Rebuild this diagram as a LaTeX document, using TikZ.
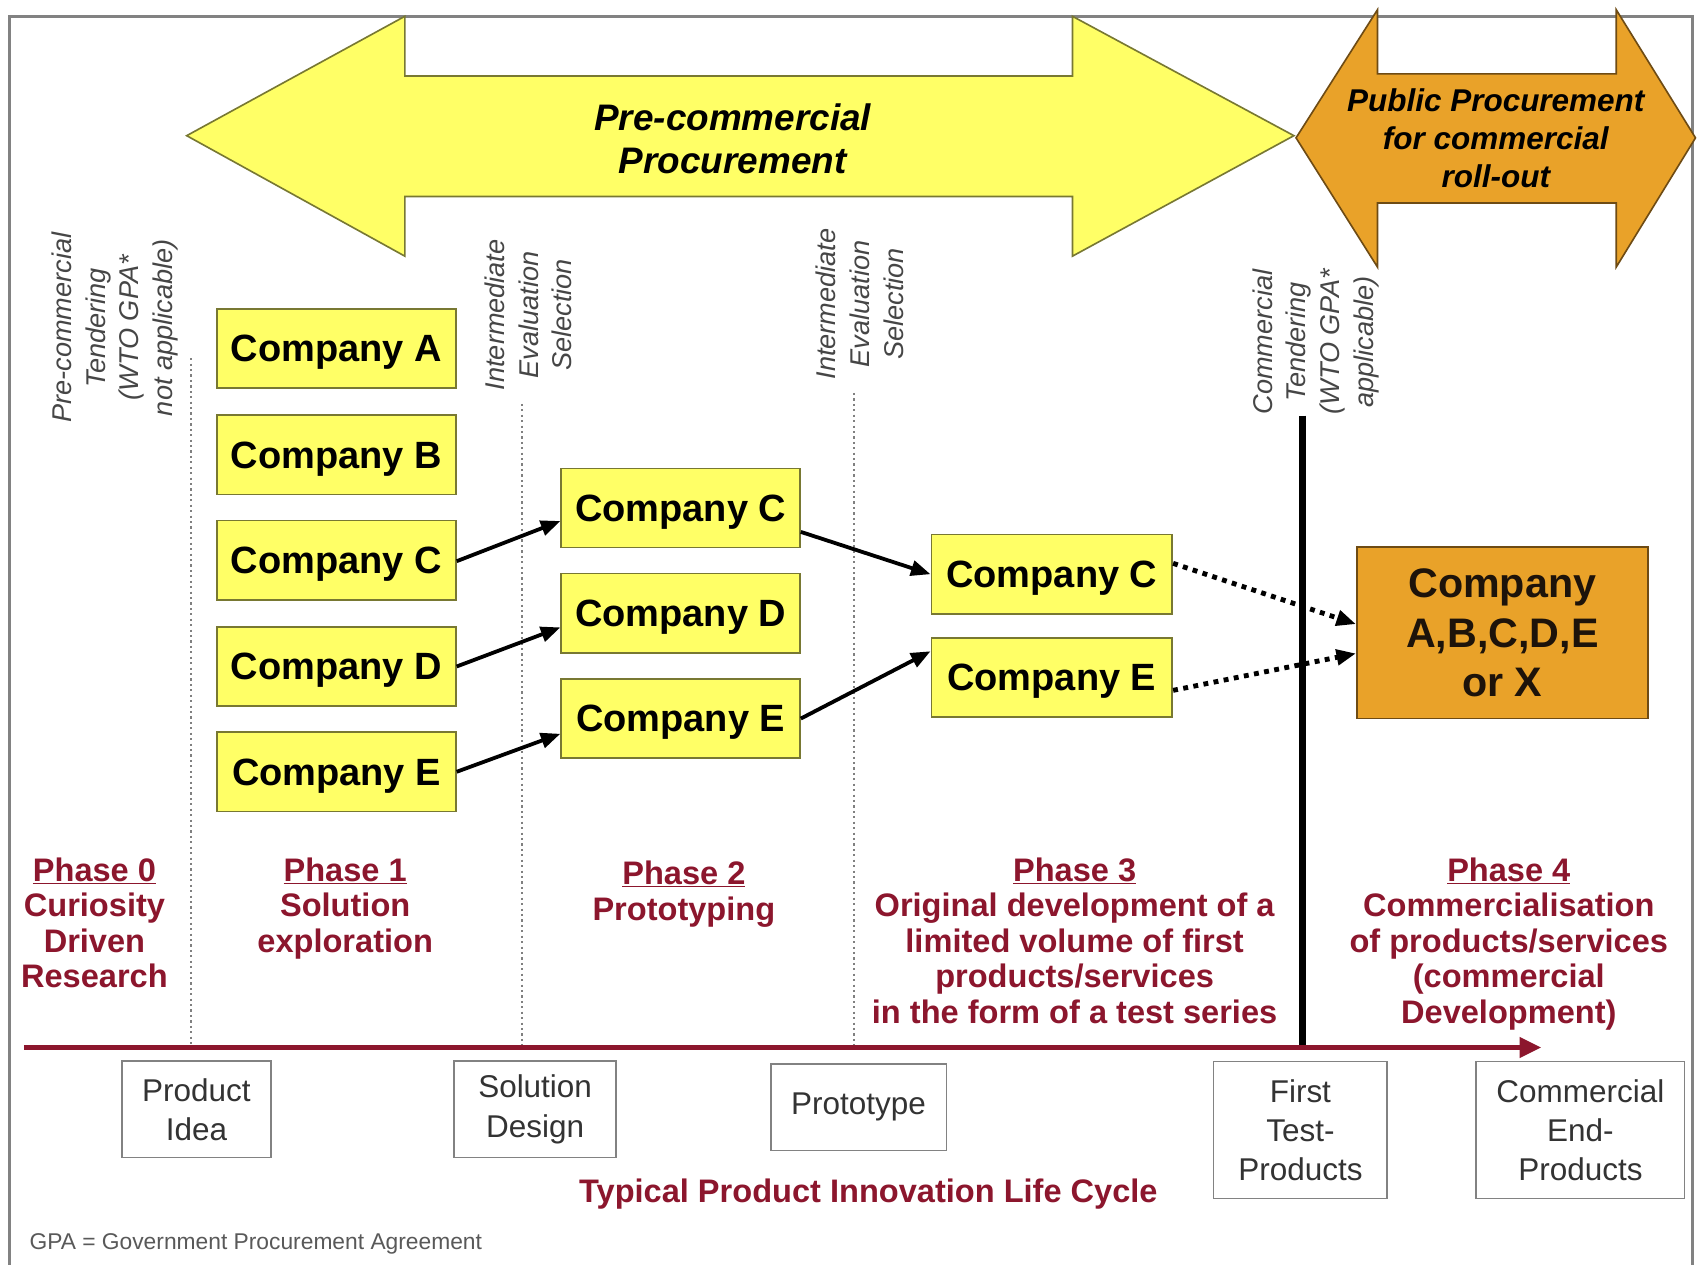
\documentclass[tikz,border=0pt]{standalone}
\usepackage{fontspec}
\setmainfont{Liberation Sans}
\usetikzlibrary{arrows.meta,calc}
\definecolor{yfill}{RGB}{255,255,102}
\definecolor{ydraw}{RGB}{120,120,50}
\definecolor{ofill}{RGB}{233,162,41}
\definecolor{odraw}{RGB}{110,75,20}
\definecolor{maroon}{RGB}{140,22,45}
\definecolor{framegray}{RGB}{130,130,130}
\definecolor{labgray}{RGB}{70,70,70}
\tikzset{
  compbox/.style={draw=ydraw, fill=yfill, line width=1.5pt, minimum width=220pt, minimum height=73pt,
    inner sep=0pt, text depth=0pt, font=\fontsize{35}{40}\selectfont\bfseries, text=black},
  bigbox/.style={draw=odraw, fill=ofill, line width=1.5pt, minimum width=268pt, minimum height=158pt,
    inner sep=0pt, align=center, font=\fontsize{38}{46}\selectfont\bfseries, text=black!85!brown},
  flowarrow/.style={line width=3.5pt, -{Triangle[length=18pt,width=14pt]}},
  dotarrow/.style={line width=4.5pt, dash pattern=on 4.5pt off 5pt, -{Triangle[length=18pt,width=14pt]}},
  sidelabel/.style={rotate=90, align=center, inner sep=0pt, text=labgray,
    font=\fontsize{25}{31}\selectfont\itshape},
  phaselabel/.style={align=center, inner sep=0pt, anchor=north, text=maroon,
    font=\fontsize{30}{32.7}\selectfont\bfseries},
  lifebox/.style={draw=framegray, fill=white, line width=1.5pt, align=center, inner sep=0pt,
    font=\fontsize{29}{36}\selectfont, text=black!80},
  gate/.style={draw=gray, line width=1.5pt, dash pattern=on 2pt off 3pt},
}
\begin{document}
\begin{tikzpicture}[x=1pt,y=-1pt]
\useasboundingbox (0,0) rectangle (1568,1165);
\fill[white] (0,0) rectangle (1568,1165);
% frame
\draw[framegray, line width=3pt] (9,1170) -- (9,15) -- (1559,15) -- (1559,1170);

% big arrows
\draw[ydraw, fill=yfill, line width=1.5pt] (172,125) -- (373,15) -- (373,70) -- (988,70) -- (988,15)
  -- (1192,125) -- (988,236) -- (988,181) -- (373,181) -- (373,236) -- cycle;
\draw[odraw, fill=ofill, line width=1.5pt] (1194,127) -- (1269,9) -- (1269,68) -- (1489,68) -- (1489,9)
  -- (1562,127) -- (1489,246) -- (1489,187) -- (1269,187) -- (1269,246) -- cycle;
\node[align=center, font=\fontsize{34}{40}\selectfont\bfseries\itshape] (pcp) at (675,128)
  {Pre-commercial\\Procurement};
\node[align=center, font=\fontsize{29}{35}\selectfont\bfseries\itshape] (ppc) at (1378,127)
  {Public Procurement\\for commercial\\roll-out};

% side labels
\node[sidelabel] (l0) at (106,302) {Pre-commercial\\Tendering\\(WTO GPA*\\not applicable)};
\node[sidelabel] (l1) at (487,290) {Intermediate\\Evaluation\\Selection};
\node[sidelabel] (l2) at (792,280) {Intermediate\\Evaluation\\Selection};
\node[sidelabel] (l3) at (1212,315) {Commercial\\Tendering\\(WTO GPA*\\applicable)};

% timeline and gates
\coordinate (tl0) at (22,965);
\coordinate (tl1) at (1420,965);
\coordinate (g0t) at (176,330); \coordinate (g0b) at (176,965);
\coordinate (g1t) at (481,372); \coordinate (g1b) at (481,965);
\coordinate (g2t) at (787,362); \coordinate (g2b) at (787,965);
\coordinate (g3t) at (1200,383); \coordinate (g3b) at (1200,965);
\draw[gate] (g0t) -- (g0b);
\draw[gate] (g1t) -- (g1b);
\draw[gate] (g2t) -- (g2b);
\draw[black, line width=6pt] (g3t) -- (g3b);
\draw[maroon, line width=5pt, -{Triangle[length=20pt,width=18pt]}] (tl0) -- (tl1);

% company boxes
\node[compbox] (a1) at (310,321) {Company A};
\node[compbox] (b1) at (310,419) {Company B};
\node[compbox] (c1) at (310,516) {Company C};
\node[compbox] (d1) at (310,614) {Company D};
\node[compbox] (e1) at (310,711) {Company E};
\node[compbox] (c2) at (627,468) {Company C};
\node[compbox] (d2) at (627,565) {Company D};
\node[compbox] (e2) at (627,662) {Company E};
\node[compbox, minimum width=222pt] (c3) at (969,529) {Company C};
\node[compbox, minimum width=222pt] (e3) at (969,624) {Company E};
\node[bigbox] (x4) at (1384,583) {Company\\A,B,C,D,E\\or X};

% connectors
\draw[flowarrow] ($(c1.east)+(0,1)$) -- ($(c2.west)+(0,12)$);
\draw[flowarrow] (d1.east) -- ($(d2.west)+(0,13)$);
\draw[flowarrow] (e1.east) -- ($(e2.west)+(0,14)$);
\draw[flowarrow] ($(c2.east)+(0,22)$) -- (c3.west);
\draw[flowarrow] (e2.east) -- ($(e3.west)+(0,-24)$);
\draw[dotarrow] ($(c3.east)+(0,-10)$) -- ($(x4.west)+(0,-8)$);
\draw[dotarrow] ($(e3.east)+(0,12)$) -- ($(x4.west)+(0,19)$);

% phase labels
\node[phaselabel] (p0) at (87,790) {\underline{Phase 0}\\Curiosity\\Driven\\Research};
\node[phaselabel] (p1) at (318,790) {\underline{Phase 1}\\Solution\\exploration};
\node[phaselabel] (p2) at (630,793) {\underline{Phase 2}\\Prototyping};
\node[phaselabel] (p3) at (990,790) {\underline{Phase 3}\\Original development of a\\limited volume of first\\products/services\\in the form of a test series};
\node[phaselabel] (p4) at (1390,790) {\underline{Phase 4}\\Commercialisation\\of products/services\\(commercial\\Development)};

% life cycle boxes
\node[lifebox, minimum width=137pt, minimum height=89pt] (idea) at (181,1022) {Product\\Idea};
\node[lifebox, minimum width=149pt, minimum height=89pt] (design) at (493,1022) {Solution\\Design};
\node[lifebox, minimum width=162pt, minimum height=80pt] (proto) at (791,1020) {Prototype};
\node[lifebox, minimum width=160pt, minimum height=126pt] (test) at (1198,1041) {First\\Test-\\Products};
\node[lifebox, minimum width=192pt, minimum height=126pt] (endp) at (1456,1041) {Commercial\\End-\\Products};

\node[text=maroon, font=\fontsize{30}{36}\selectfont\bfseries] (cycle) at (800,1100)
  {Typical Product Innovation Life Cycle};
\node[anchor=west, inner sep=0pt, text=black!65, font=\fontsize{21}{25}\selectfont] (gpa) at (27,1146)
  {GPA = Government Procurement Agreement};
\end{tikzpicture}
\end{document}
